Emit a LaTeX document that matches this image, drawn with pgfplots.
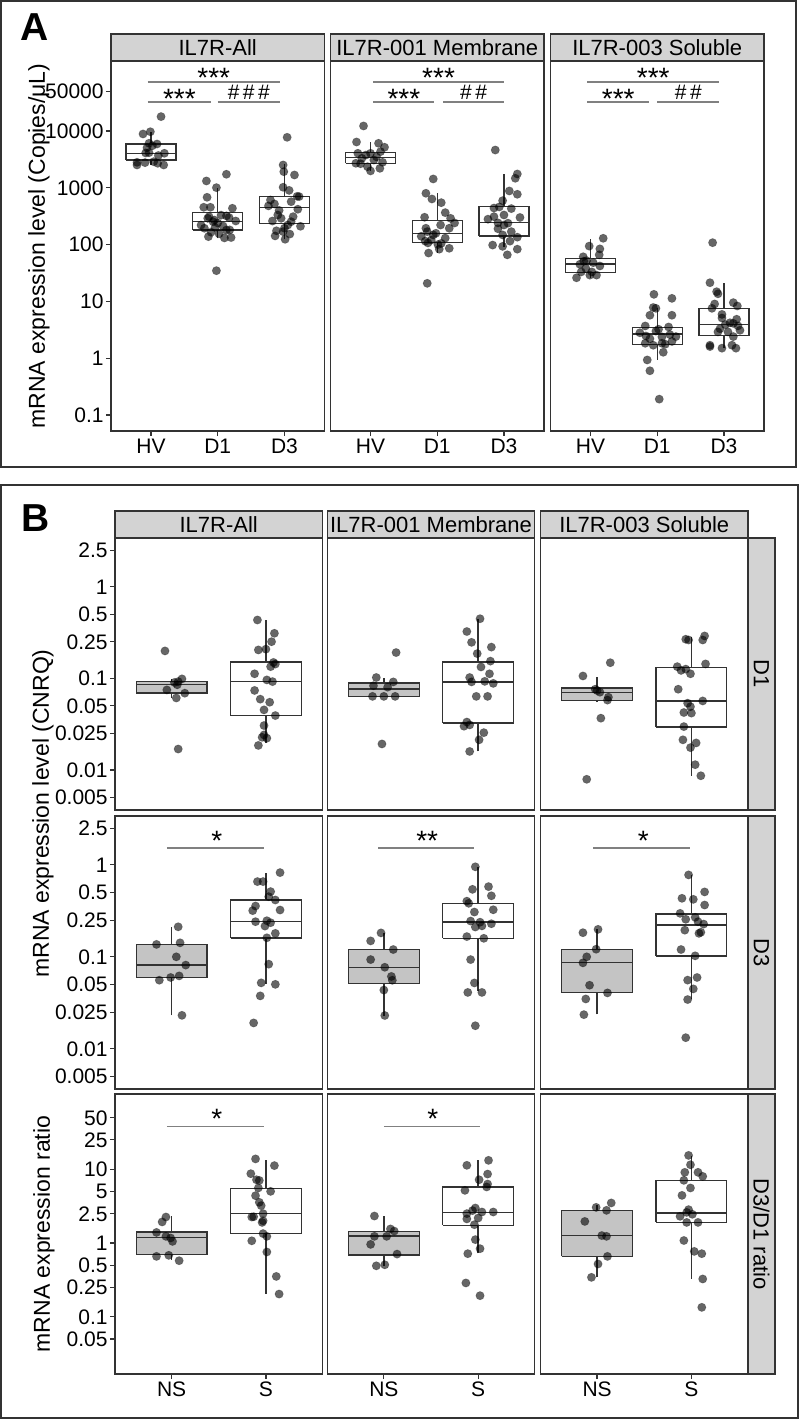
\documentclass[border=0pt]{standalone}
\usepackage{fontspec}
\setmainfont{Liberation Sans}
\usepackage{pgfplots}
\pgfplotsset{compat=1.18}
\definecolor{axc}{RGB}{51,51,51}
\definecolor{stripc}{RGB}{211,211,211}
\definecolor{nsfill}{RGB}{196,196,196}
\definecolor{sigc}{RGB}{128,128,128}
% box: left, right, centre, lower whisker, q1, median, q3, upper whisker, fill
\newcommand{\bx}[9]{%
  \addplot[draw=axc, line width=0.7pt, fill=#9] coordinates {(#1,#5) (#2,#5) (#2,#7) (#1,#7) (#1,#5)};
  \addplot[draw=axc, line width=0.7pt] coordinates {(#1,#6) (#2,#6)};
  \addplot[draw=axc, line width=0.7pt] coordinates {(#3,#7) (#3,#8)};
  \addplot[draw=axc, line width=0.7pt] coordinates {(#3,#4) (#3,#5)};
}
\pgfplotsset{
  facetbase/.style={scale only axis, yminorticks=false, xminorticks=false,
    axis line style={draw=axc, line width=0.7pt},
    tick align=outside, major tick length=2.5pt,
    tick style={draw=axc, line width=0.6pt},
    xtick pos=left, ytick pos=left,
    tick label style={font=\fontsize{10.5}{12}\selectfont, text=black},
    xticklabel style={inner sep=1pt, text height=0.74em, text depth=0pt},
    yticklabel style={inner sep=1pt, text height=0.74em, text depth=0pt}},
  facetA/.style={facetbase, width=106.75pt, height=185pt, xmin=0.4, xmax=3.6, ymin=0.0522, ymax=170600,
    xtick={1,2,3}, xticklabels={HV,D1,D3}, ytick=\empty},
  facetB/.style={facetbase, width=103.75pt, xmin=0.4, xmax=2.6, xtick=\empty, ytick=\empty},
  rowDB/.style={facetB, ymin=0.00365, ymax=3.40},
  rowRB/.style={facetB, height=140pt, ymin=0.0167, ymax=104.7, xtick={1,2}, xticklabels={NS,S}},
  yticksA/.style={ytick={0.1,1,10,100,1000,10000,50000}, yticklabels={0.1,1,10,100,1000,10000,50000}},
  yticksB/.style={ytick={0.005,0.01,0.025,0.05,0.1,0.25,0.5,1,2.5}, yticklabels={0.005,0.01,0.025,0.05,0.1,0.25,0.5,1,2.5}},
  yticksC/.style={ytick={0.05,0.1,0.25,0.5,1,2.5,5,10,25,50}, yticklabels={0.05,0.1,0.25,0.5,1,2.5,5,10,25,50}},
  jitpts/.style={only marks, mark=*, mark size=2.1pt, mark options={draw=black, draw opacity=0.25, line width=0.3pt, fill=black, fill opacity=0.6}},
  sigline/.style={draw=sigc, line width=0.75pt},
}
\newcommand{\stars}{\fontsize{14}{14}\selectfont}
\newcommand{\hashes}{\fontsize{10.5}{10.5}\selectfont}
\begin{document}
\begin{tikzpicture}
\useasboundingbox (0,0) rectangle (400pt,-710pt);
% ================= PANEL A =================
\begin{axis}[ymode=log, anchor=north west, facetA, yticksA, at={(55.5pt,-30.5pt)}]
\bx{0.625}{1.375}{1}{2520}{3085}{4050}{5900}{9700}{white}
\bx{1.625}{2.375}{2}{129}{181}{253}{365}{1000}{white}
\bx{2.625}{3.375}{3}{124}{237}{454}{697}{2600}{white}
\addplot[jitpts] coordinates {(1.15,17900) (0.88,8860) (0.99,9700) (0.97,6070) (1.09,5900) (0.94,5080) (0.97,4150) (1.20,4050) (0.79,2810) (0.79,2520) (0.91,2770) (1.04,2880) (1.10,2700) (1.19,2520) (1.11,3700) (0.92,4100) (1.02,5500)};
\addplot[jitpts] coordinates {(2.13,1730) (1.83,1318) (1.98,1005) (1.84,680) (1.79,454) (1.89,454) (2.22,436) (1.85,290) (2.05,330) (2.13,320) (1.93,253) (1.80,194) (2.18,181) (2.08,212) (1.86,138) (2.10,131) (2.20,133) (1.98,34.7) (2.0,240) (1.95,270) (2.13,180) (1.75,220) (2.27,260) (1.90,165) (2.02,155) (2.17,300) (1.96,200) (1.87,310)};
\addplot[jitpts] coordinates {(3.04,7740) (2.98,2520) (2.99,1920) (3.15,1680) (2.98,1021) (3.19,707) (3.22,700) (2.79,609) (2.85,519) (3.10,569) (3.20,419) (2.90,332) (2.95,290) (3.10,253) (3.05,221) (3.00,194) (2.98,169) (2.86,142) (3.08,153) (3.01,124) (2.76,480) (2.92,400) (3.13,310) (2.82,260) (3.24,210) (3.07,900) (2.88,175)};
\addplot[sigline] coordinates {(0.95,72900) (2.93,72900)};
\addplot[sigline] coordinates {(0.95,32400) (1.9,32400)};
\addplot[sigline] coordinates {(2.0,32400) (2.93,32400)};
\node[anchor=south, inner sep=0pt, yshift=-3pt, font=\stars] at (axis cs:1.94,72900) {***};
\node[anchor=south, inner sep=0pt, yshift=-3.5pt, font=\stars] at (axis cs:1.425,32400) {***};
\node[anchor=south, inner sep=0pt, yshift=1pt, font=\hashes] at (axis cs:2.465,32400) {\#\,\#\,\#};
\end{axis}
\begin{axis}[ymode=log, anchor=north west, facetA, at={(165.25pt,-30.5pt)}]
\bx{0.625}{1.375}{1}{1980}{2700}{3440}{4220}{6400}{white}
\bx{1.625}{2.375}{2}{71}{108}{158}{264}{800}{white}
\bx{2.625}{3.375}{3}{90}{142}{247}{465}{1750}{white}
\addplot[jitpts] coordinates {(0.895,12250) (0.79,6400) (1.12,6070) (1.21,5170) (1.15,4330) (0.81,4050) (1.0,4050) (0.93,3770) (0.78,2700) (0.85,2650) (1.05,3085) (1.18,2810) (0.955,2350) (1.0,1980) (1.14,2200) (1.09,3500) (0.87,3300)};
\addplot[jitpts] coordinates {(1.94,1430) (1.83,800) (1.92,635) (2.06,547) (2.12,365) (1.81,303) (2.20,290) (2.05,221) (1.83,194) (2.18,194) (1.94,148) (1.85,169) (1.86,107) (1.82,115) (2.06,105) (2.18,86) (2.03,83) (1.87,71) (1.85,20.8) (1.98,158) (1.91,120) (2.26,240) (2.12,130) (1.76,140) (2.01,100)};
\addplot[jitpts] coordinates {(2.87,4620) (3.20,1750) (3.17,1470) (3.08,879) (3.20,769) (2.98,593) (2.85,440) (2.93,460) (3.11,430) (2.85,310) (3.0,221) (2.91,241) (3.11,169) (2.98,148) (3.20,135) (2.83,98) (2.98,93) (3.20,83) (3.05,66) (3.0,332) (3.06,238) (2.76,280) (3.24,300) (2.91,190) (3.09,115)};
\addplot[sigline] coordinates {(1.04,72900) (3.0,72900)};
\addplot[sigline] coordinates {(1.04,32400) (1.95,32400)};
\addplot[sigline] coordinates {(2.09,32400) (3.0,32400)};
\node[anchor=south, inner sep=0pt, yshift=-3pt, font=\stars] at (axis cs:2.02,72900) {***};
\node[anchor=south, inner sep=0pt, yshift=-3.5pt, font=\stars] at (axis cs:1.5,32400) {***};
\node[anchor=south, inner sep=0pt, yshift=1pt, font=\hashes] at (axis cs:2.545,32400) {\#\,\#};
\end{axis}
\begin{axis}[ymode=log, anchor=north west, facetA, at={(275.25pt,-30.5pt)}]
\bx{0.625}{1.375}{1}{26}{32}{45.5}{57.4}{126}{white}
\bx{1.625}{2.375}{2}{0.93}{1.76}{2.67}{3.50}{7.55}{white}
\bx{2.625}{3.375}{3}{1.5}{2.49}{3.96}{7.55}{20.8}{white}
\addplot[jitpts] coordinates {(1.19,129) (0.98,94) (1.14,84) (0.89,61) (1.13,66) (0.90,51) (0.94,52) (1.04,48) (0.84,45) (1.14,42) (0.86,33) (0.79,26) (0.99,29) (1.09,29) (1.02,33) (0.93,38)};
\addplot[jitpts] coordinates {(1.95,13.3) (2.22,11.3) (1.98,7.55) (1.94,7.8) (1.89,5.7) (2.22,5.7) (1.82,3.69) (2.02,3.23) (2.17,3.54) (1.83,2.46) (1.89,2.2) (2.07,2.37) (2.19,2.6) (1.82,1.83) (1.94,1.69) (2.12,1.76) (2.07,1.83) (2.22,1.97) (2.09,1.27) (1.85,0.93) (1.89,0.60) (2.03,0.19) (1.98,3.0) (1.74,2.8) (2.28,2.4)};
\addplot[jitpts] coordinates {(2.83,108) (2.79,21.3) (2.89,14.8) (2.91,13.6) (3.14,9.5) (3.20,8.3) (2.86,9.0) (2.82,7.55) (2.97,5.9) (2.97,5.1) (3.19,4.85) (3.09,4.2) (3.14,4.1) (3.02,3.9) (3.21,3.7) (2.94,3.3) (2.91,2.9) (3.06,2.9) (3.14,2.4) (2.79,1.69) (2.79,1.60) (2.97,1.5) (3.12,1.69) (3.18,1.5) (3.24,3.1)};
\addplot[sigline] coordinates {(0.95,72900) (2.93,72900)};
\addplot[sigline] coordinates {(0.95,32400) (1.88,32400)};
\addplot[sigline] coordinates {(2.0,32400) (2.93,32400)};
\node[anchor=south, inner sep=0pt, yshift=-3pt, font=\stars] at (axis cs:1.94,72900) {***};
\node[anchor=south, inner sep=0pt, yshift=-3.5pt, font=\stars] at (axis cs:1.415,32400) {***};
\node[anchor=south, inner sep=0pt, yshift=1pt, font=\hashes] at (axis cs:2.465,32400) {\#\,\#};
\end{axis}
% ================= PANEL B, row D1 =================
\begin{axis}[ymode=log, anchor=north west, rowDB, yticksB, height=136pt, at={(57.5pt,-269pt)}]
\bx{0.625}{1.375}{1}{0.061}{0.0688}{0.0862}{0.092}{0.098}{nsfill}
\bx{1.625}{2.375}{2}{0.0196}{0.0392}{0.092}{0.150}{0.433}{white}
\addplot[jitpts] coordinates {(0.93,0.199) (1.11,0.0985) (1.07,0.092) (1.06,0.085) (0.95,0.0747) (1.14,0.0688) (1.05,0.061) (1.07,0.0169) (1.03,0.090)};
\addplot[jitpts] coordinates {(1.91,0.433) (2.09,0.31) (2.06,0.251) (1.92,0.204) (2.0,0.208) (2.08,0.149) (2.10,0.143) (2.05,0.134) (1.88,0.112) (2.01,0.096) (2.07,0.092) (1.88,0.0737) (1.94,0.0592) (2.04,0.0548) (1.98,0.0452) (2.10,0.0392) (1.98,0.0305) (1.98,0.0241) (2.01,0.0222) (1.96,0.0227) (1.92,0.0185)};
\end{axis}
\begin{axis}[ymode=log, anchor=north west, rowDB, height=136pt, at={(163.625pt,-269pt)}]
\bx{0.625}{1.375}{1}{0.0635}{0.0635}{0.0766}{0.0889}{0.1}{nsfill}
\bx{1.625}{2.375}{2}{0.0159}{0.0324}{0.0914}{0.150}{0.447}{white}
\addplot[jitpts] coordinates {(1.13,0.191) (0.92,0.102) (0.89,0.083) (1.04,0.080) (1.10,0.0913) (0.88,0.0635) (1.0,0.0635) (1.12,0.0635) (0.98,0.0192)};
\addplot[jitpts] coordinates {(2.02,0.447) (1.88,0.324) (1.93,0.247) (2.14,0.219) (1.99,0.186) (2.13,0.154) (2.03,0.133) (2.12,0.112) (1.91,0.102) (1.93,0.0914) (2.07,0.0926) (2.16,0.088) (1.98,0.0635) (2.10,0.0635) (1.88,0.0333) (1.91,0.031) (1.85,0.030) (2.06,0.0255) (2.01,0.0213) (1.91,0.0159)};
\end{axis}
\begin{axis}[ymode=log, anchor=north west, rowDB, height=136pt, at={(270.25pt,-269pt)}]
\bx{0.625}{1.375}{1}{0.055}{0.0571}{0.0705}{0.078}{0.104}{nsfill}
\bx{1.625}{2.375}{2}{0.00863}{0.0293}{0.0563}{0.132}{0.285}{white}
\addplot[jitpts] coordinates {(1.14,0.148) (0.85,0.106) (0.98,0.076) (1.0,0.0735) (1.03,0.0705) (1.12,0.0622) (1.11,0.0578) (1.04,0.0367) (0.89,0.0079)};
\addplot[jitpts] coordinates {(1.94,0.267) (1.97,0.262) (2.14,0.29) (2.12,0.262) (2.15,0.1435) (1.85,0.134) (1.89,0.122) (1.94,0.126) (1.99,0.112) (1.86,0.076) (1.96,0.0535) (1.99,0.049) (2.12,0.0566) (1.92,0.0423) (2.0,0.0417) (1.92,0.0297) (1.91,0.0213) (2.05,0.0197) (1.99,0.0175) (2.04,0.0114) (2.10,0.00863)};
\end{axis}
% ================= PANEL B, row D3 =================
\begin{axis}[ymode=log, anchor=north west, rowDB, yticksB, height=136.5pt, at={(57.5pt,-408pt)}]
\bx{0.625}{1.375}{1}{0.0231}{0.0596}{0.0818}{0.1365}{0.209}{nsfill}
\bx{1.625}{2.375}{2}{0.0504}{0.161}{0.241}{0.415}{0.811}{white}
\addplot[jitpts] coordinates {(1.07,0.212) (0.84,0.1365) (1.09,0.142) (1.05,0.1) (1.15,0.0813) (0.87,0.0557) (0.99,0.0596) (1.08,0.062) (1.11,0.0231)};
\addplot[jitpts] coordinates {(2.15,0.824) (1.91,0.658) (1.97,0.658) (2.05,0.512) (2.03,0.451) (2.10,0.415) (1.89,0.357) (1.86,0.318) (2.15,0.323) (1.89,0.241) (2.01,0.247) (2.05,0.235) (1.99,0.216) (2.10,0.18) (2.01,0.161) (2.03,0.0832) (1.95,0.0521) (2.10,0.0502) (1.94,0.0376) (1.87,0.0191)};
\addplot[sigline] coordinates {(0.95,1.52) (1.98,1.52)};
\node[anchor=south, inner sep=0pt, yshift=-1.2pt, font=\stars] at (axis cs:1.48,1.52) {*};
\end{axis}
\begin{axis}[ymode=log, anchor=north west, rowDB, height=136.5pt, at={(163.625pt,-408pt)}]
\bx{0.625}{1.375}{1}{0.023}{0.0514}{0.077}{0.120}{0.182}{nsfill}
\bx{1.625}{2.375}{2}{0.042}{0.159}{0.238}{0.382}{0.953}{white}
\addplot[jitpts] coordinates {(0.97,0.182) (0.86,0.149) (1.10,0.120) (0.86,0.0933) (1.01,0.077) (1.08,0.0612) (1.09,0.0556) (1.0,0.0435) (1.01,0.023)};
\addplot[jitpts] coordinates {(1.97,0.953) (2.11,0.58) (1.94,0.542) (2.14,0.461) (1.88,0.403) (1.90,0.382) (2.16,0.325) (1.96,0.307) (1.92,0.245) (2.02,0.238) (2.04,0.217) (1.97,0.211) (2.14,0.229) (1.88,0.166) (2.06,0.159) (1.92,0.0933) (1.96,0.052) (1.89,0.041) (2.04,0.041) (1.97,0.0178)};
\addplot[sigline] coordinates {(0.94,1.52) (1.96,1.52)};
\node[anchor=south, inner sep=0pt, yshift=-1.2pt, font=\stars] at (axis cs:1.46,1.52) {**};
\end{axis}
\begin{axis}[ymode=log, anchor=north west, rowDB, height=136.5pt, at={(270.25pt,-408pt)}]
\bx{0.625}{1.375}{1}{0.0237}{0.0409}{0.0869}{0.121}{0.199}{nsfill}
\bx{1.625}{2.375}{2}{0.0346}{0.1025}{0.222}{0.292}{0.778}{white}
\addplot[jitpts] coordinates {(0.85,0.183) (1.01,0.199) (0.99,0.121) (0.89,0.1) (0.85,0.086) (0.92,0.0491) (1.11,0.0405) (0.88,0.0348) (0.86,0.0235)};
\addplot[jitpts] coordinates {(1.97,0.778) (2.14,0.508) (1.90,0.433) (2.02,0.422) (2.14,0.366) (1.88,0.297) (1.94,0.256) (2.04,0.269) (2.07,0.241) (2.13,0.227) (2.10,0.185) (2.08,0.18) (1.93,0.195) (1.89,0.12) (2.04,0.1025) (2.06,0.0596) (1.96,0.0558) (2.02,0.0448) (1.96,0.0343) (1.94,0.0132)};
\addplot[sigline] coordinates {(0.96,1.52) (1.98,1.52)};
\node[anchor=south, inner sep=0pt, yshift=-1.2pt, font=\stars] at (axis cs:1.49,1.52) {*};
\end{axis}
% ================= PANEL B, row ratio =================
\begin{axis}[ymode=log, anchor=north west, rowRB, yticksC, at={(57.5pt,-547pt)}]
\bx{0.625}{1.375}{1}{0.593}{0.694}{1.19}{1.41}{2.30}{nsfill}
\bx{1.625}{2.375}{2}{0.205}{1.34}{2.50}{5.51}{13.2}{white}
\addplot[jitpts] coordinates {(0.94,2.25) (0.90,1.93) (0.84,1.39) (0.94,1.23) (0.99,1.17) (1.01,1.05) (0.97,0.68) (0.84,0.658) (1.08,0.575)};
\addplot[jitpts] coordinates {(1.89,13.8) (2.09,11.2) (1.84,8.7) (1.90,7.2) (1.93,7.05) (1.92,5.58) (2.05,5.01) (1.89,4.38) (1.93,3.56) (1.95,3.21) (1.85,2.25) (1.87,2.27) (1.97,2.5) (1.96,1.9) (1.97,2.0) (1.97,1.34) (2.01,1.23) (1.85,1.07) (2.01,0.755) (2.11,0.352) (2.14,0.203)};
\addplot[sigline] coordinates {(0.95,37.9) (1.98,37.9)};
\node[anchor=south, inner sep=0pt, yshift=-1.2pt, font=\stars] at (axis cs:1.48,37.9) {*};
\end{axis}
\begin{axis}[ymode=log, anchor=north west, rowRB, at={(163.625pt,-547pt)}]
\bx{0.625}{1.375}{1}{0.49}{0.685}{1.25}{1.43}{2.32}{nsfill}
\bx{1.625}{2.375}{2}{0.72}{1.73}{2.60}{5.75}{13.2}{white}
\addplot[jitpts] coordinates {(0.90,2.32) (1.07,1.55) (1.11,1.45) (0.90,1.23) (1.03,1.23) (0.86,0.957) (1.14,0.707) (0.92,0.49) (1.01,0.506)};
\addplot[jitpts] coordinates {(2.11,13.2) (1.88,11.3) (2.10,8.6) (2.01,7.2) (2.09,5.75) (2.10,6.3) (1.86,5.17) (1.97,2.98) (1.88,2.5) (1.88,2.12) (2.04,2.63) (2.16,2.63) (2.0,2.18) (1.96,1.77) (1.97,1.11) (2.02,0.837) (1.89,0.716) (1.87,0.287) (2.02,0.193) (1.94,2.75)};
\addplot[sigline] coordinates {(1.0,37.9) (2.02,37.9)};
\node[anchor=south, inner sep=0pt, yshift=-1.2pt, font=\stars] at (axis cs:1.52,37.9) {*};
\end{axis}
\begin{axis}[ymode=log, anchor=north west, rowRB, at={(270.25pt,-547pt)}]
\bx{0.625}{1.375}{1}{0.342}{0.658}{1.26}{2.77}{3.3}{nsfill}
\bx{1.625}{2.375}{2}{0.325}{1.9}{2.55}{7.07}{15}{white}
\addplot[jitpts] coordinates {(0.99,3.04) (1.10,2.77) (1.15,3.49) (0.87,1.96) (1.05,1.26) (1.10,1.23) (1.11,0.658) (1.01,0.519) (0.94,0.342)};
\addplot[jitpts] coordinates {(1.97,15.4) (1.99,11.5) (1.93,9.08) (2.07,9.08) (2.12,8.0) (1.92,7.07) (1.99,5.57) (1.90,4.42) (1.97,2.83) (1.88,2.3) (1.95,2.6) (2.07,1.9) (1.95,1.9) (1.92,1.08) (2.03,0.769) (2.11,0.716) (2.12,0.325) (2.11,0.134) (2.01,2.45)};
\end{axis}
% ================= decorations (pixel units) =================
\begin{scope}[x=0.5pt, y=-0.5pt]
\draw[axc, line width=0.8pt] (1,1) rectangle (796,467);
\draw[axc, line width=0.8pt] (1,485) rectangle (798,1418);
\node[font=\bfseries\fontsize{19.5}{20}\selectfont] at (35,27.5) {A};
\node[font=\bfseries\fontsize{19.5}{20}\selectfont] at (36,518.5) {B};
\draw[axc, line width=0.7pt, fill=stripc] (111,34) rectangle (324.5,61);
\draw[axc, line width=0.7pt, fill=stripc] (330.5,34) rectangle (544,61);
\draw[axc, line width=0.7pt, fill=stripc] (550.5,34) rectangle (764,61);
\node[font=\fontsize{11}{12}\selectfont] at (217.75,47.5) {IL7R-All};
\node[font=\fontsize{11}{12}\selectfont] at (437.25,47.5) {IL7R-001 Membrane};
\node[font=\fontsize{11}{12}\selectfont] at (657.25,47.5) {IL7R-003 Soluble};
\draw[axc, line width=0.7pt, fill=stripc] (115,511) rectangle (322.5,538);
\draw[axc, line width=0.7pt, fill=stripc] (327.25,511) rectangle (534.75,538);
\draw[axc, line width=0.7pt, fill=stripc] (540.5,511) rectangle (748,538);
\node[font=\fontsize{11}{12}\selectfont] at (218.75,524.5) {IL7R-All};
\node[font=\fontsize{11}{12}\selectfont] at (431,524.5) {IL7R-001 Membrane};
\node[font=\fontsize{11}{12}\selectfont] at (644.25,524.5) {IL7R-003 Soluble};
\draw[axc, line width=0.7pt, fill=stripc] (748,538) rectangle (775,810);
\draw[axc, line width=0.7pt, fill=stripc] (748,816) rectangle (775,1089);
\draw[axc, line width=0.7pt, fill=stripc] (748,1094) rectangle (775,1374);
\node[rotate=-90, font=\fontsize{11}{12}\selectfont] at (761.5,674) {D1};
\node[rotate=-90, font=\fontsize{11}{12}\selectfont] at (761.5,952.5) {D3};
\node[rotate=-90, font=\fontsize{11}{12}\selectfont] at (761.5,1234) {D3/D1 ratio};
\node[rotate=90, font=\fontsize{11.5}{13}\selectfont] at (39,246) {mRNA expression level (Copies/μL)};
\node[rotate=90, font=\fontsize{11.5}{13}\selectfont] at (43,813.5) {mRNA expression level (CNRQ)};
\node[rotate=90, font=\fontsize{11.5}{13}\selectfont] at (44,1234) {mRNA expression ratio};
\end{scope}
\end{tikzpicture}
\end{document}
